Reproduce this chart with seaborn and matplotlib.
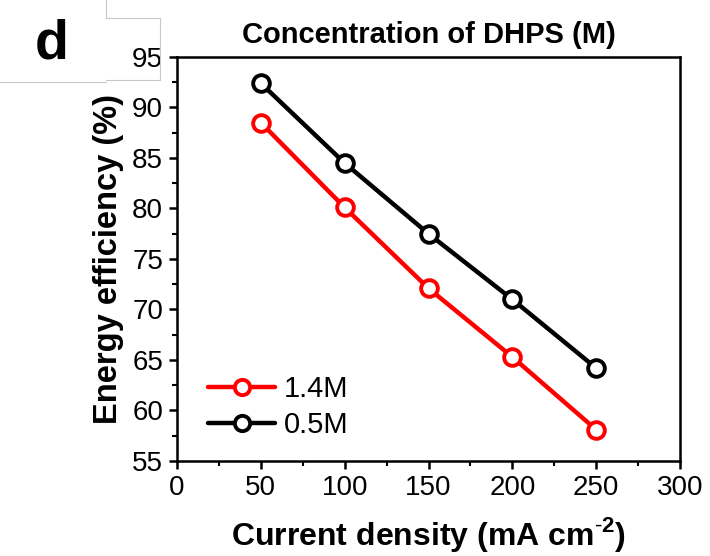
import numpy as np
import pandas as pd
import matplotlib
matplotlib.use("Agg")
import matplotlib.pyplot as plt
import seaborn as sns

# data
current_density = [50, 100, 150, 200, 250]
ee_14M = [88.5, 80.1, 72.1, 65.3, 58.1]
ee_05M = [92.4, 84.5, 77.5, 71.0, 64.2]
series_names = ["1.4M", "0.5M"]
series_colors = ["#ff0000", "#000000"]

sns.set_style("ticks")
plt.rcParams['font.family'] = ['Liberation Sans', 'DejaVu Sans']
plt.rcParams['mathtext.fontset'] = 'custom'
plt.rcParams['mathtext.rm'] = 'Liberation Sans'
plt.rcParams['mathtext.bf'] = 'Liberation Sans:bold'
plt.rcParams['text.color'] = 'black'
plt.rcParams['axes.labelcolor'] = 'black'
plt.rcParams['xtick.color'] = 'black'
plt.rcParams['ytick.color'] = 'black'
plt.rcParams['axes.edgecolor'] = 'black'

df = pd.DataFrame({
    'x': current_density * 2,
    'y': ee_14M + ee_05M,
    'conc': [series_names[0]] * 5 + [series_names[1]] * 5,
})

fig = plt.figure(figsize=(7.1, 5.56), dpi=100)
ax = fig.add_axes([177 / 710, 1 - 461 / 556, 503 / 710, 404 / 556])

sns.lineplot(data=df, x='x', y='y', hue='conc', hue_order=series_names,
             palette=dict(zip(series_names, series_colors)), ax=ax,
             marker='o', markersize=12, markerfacecolor='white',
             markeredgewidth=2.8, linewidth=3.2, legend=False)
for line, c in zip(ax.lines, series_colors):
    line.set_markeredgecolor(c)

ax.set_xlim(0, 300)
ax.set_ylim(55, 95)
ax.set_xticks(np.arange(0, 301, 50))
ax.set_yticks(np.arange(55, 96, 5))
ax.set_xticks(np.arange(25, 300, 50), minor=True)
ax.set_yticks(np.arange(57.5, 95, 5), minor=True)
ax.tick_params(which='major', direction='out', length=6, width=1.8, labelsize=20, pad=4)
ax.tick_params(which='minor', direction='out', length=3.5, width=1.5)
for s in ax.spines.values():
    s.set_linewidth(1.8)
    s.set_visible(True)

ax.set_xlabel('Current density (mA cm$^{\\mathbf{\\text{-}2}}$)', fontsize=23, fontweight='bold', labelpad=10)
ax.set_ylabel('Energy efficiency (%)', fontsize=23.5, fontweight='bold', labelpad=6)
ax.set_title('Concentration of DHPS (M)', fontsize=21, fontweight='bold', pad=10)

# legend
handles = [plt.Line2D([], [], color=c, marker='o', markersize=11, markerfacecolor='white',
                      markeredgecolor=c, markeredgewidth=2.8, linewidth=3.2)
           for c in series_colors]
ax.legend(handles, series_names, loc='lower left', bbox_to_anchor=(31 / 503, 0.055),
          borderaxespad=0, borderpad=0,
          frameon=False, fontsize=21, handlelength=2.3, handletextpad=0.3,
          labelspacing=0.25)

fig.text(52 / 710, 1 - 45 / 556, 'd', fontsize=40, fontweight='bold', ha='center', va='center')

# faint panel-label box edges
grey = '#c8c8c8'
for xs, ys in [((0, 106), (82, 82)), ((106, 106), (0, 18)), ((106, 160), (18, 18)),
               ((160, 160), (18, 80)), ((106, 160), (80, 80))]:
    fig.add_artist(plt.Line2D([x / 710 for x in xs], [1 - y / 556 for y in ys],
                              color=grey, linewidth=0.8))

fig.savefig('out.png', dpi=100)
